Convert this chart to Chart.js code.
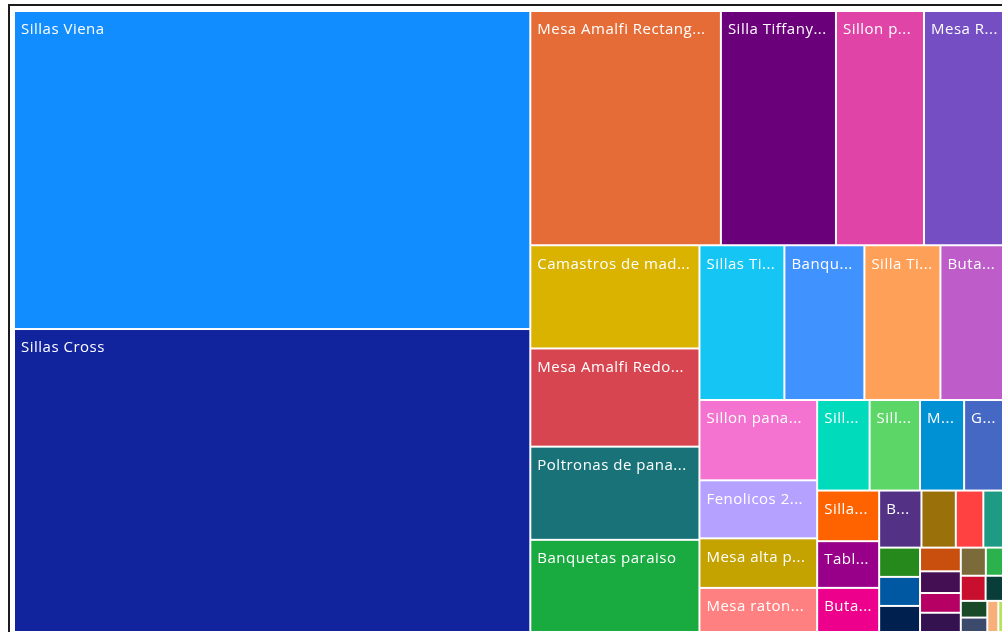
<!DOCTYPE html>
<html lang="es">
<head>
<meta charset="utf-8">
<title>Productos</title>
<script src="https://cdn.jsdelivr.net/npm/chart.js@4.4.1/dist/chart.umd.min.js"></script>
<style>
	html, body { margin: 0; padding: 0; background: #fff; overflow: hidden; }
	#wrap { position: relative; width: 1002px; height: 632px; overflow: hidden; }
	#frame { position: absolute; left: 8px; top: 4px; width: 1100px; height: 700px; border-left: 2px solid #1c1c1c; border-top: 2px solid #1c1c1c; }
	#treemap { position: absolute; left: 0; top: 0; }
</style>
</head>
<body>
<div id="wrap">
	<div id="frame"></div>
	<canvas id="treemap" width="1012" height="632"></canvas>
</div>
<script>
const productos = [
	"Sillas Viena", "Sillas Cross", "Mesa Amalfi Rectangular", "Silla Tiffany transparente",
	"Sillon paraiso", "Mesa Redonda", "Camastros de madera", "Mesa Amalfi Redonda",
	"Poltronas de panamá", "Banquetas paraiso", "Sillas Tiffany blancas", "Banquetas altas",
	"Silla Tiffany dorada", "Butacas Luis XV", "Sillon panamá doble", "Fenolicos 2 metros",
	"Mesa alta periquera", "Mesa ratona cuadrada", "Silla Versalles", "Silla Crossback",
	"Mesa imperial", "Gazebo 3x3", "Silla plegable", "Tablones", "Butacas", "Bancos",
	"Barra de bar", "Carpa", "Manteles", "Mesa cuadrada", "Periqueras", "Salas lounge",
	"Tarimas", "Vajilla", "Cristalería", "Cubiertos", "Calentadores", "Lámparas",
	"Pista de baile", "Sombrillas", "Hieleras", "Bases", "Caminos de mesa", "Mantelería"
];

const cantidades = [
	16326, 15553, 4439, 2680, 2050, 1957, 1736, 1651, 1567, 1550, 1307, 1231,
	1170, 1040, 940, 679, 580, 516, 472, 454, 397, 395, 312, 288, 272, 240,
	195, 156, 140, 119, 118, 106, 96, 88, 80, 78, 70, 62, 62, 56, 44, 38, 34, 30
];

const colores = [
	"#118DFF", "#12239E", "#E66C37", "#6B007B", "#E044A7", "#744EC2", "#D9B300", "#D64550",
	"#197278", "#1AAB40", "#15C6F4", "#4092FF", "#FFA058", "#BE5DC9", "#F472D0", "#B5A1FF",
	"#C4A200", "#FF8080", "#00DBBC", "#5BD667", "#0091D5", "#4668C5", "#FF6300", "#99008A",
	"#EC008C", "#533285", "#99700A", "#FF4141", "#1F9A85", "#25891C", "#0057A2", "#002050",
	"#C94F0F", "#450F54", "#B60064", "#34124F", "#7B6B3A", "#2BB24C", "#C8102E", "#083D3A",
	"#184A28", "#3C4B6B", "#F8B07A", "#B6E35A"
];

const PHI = (1 + Math.sqrt(5)) / 2;

// squarified rows, golden-ratio target (same rule d3.treemapSquarify uses)
function squarify(values, x0, y0, x1, y1) {
	const cells = [];
	const n = values.length;
	let value = values.reduce((a, b) => a + b, 0);
	let i0 = 0, i1 = 0;

	while (i0 < n) {
		const dx = x1 - x0, dy = y1 - y0;
		let sum = values[i1++];
		let minV = sum, maxV = sum;
		const alpha = Math.max(dy / dx, dx / dy) / (value * PHI);
		let beta = sum * sum * alpha;
		let minRatio = Math.max(maxV / beta, beta / minV);

		for (; i1 < n; ++i1) {
			const v = values[i1];
			sum += v;
			if (v < minV) minV = v;
			if (v > maxV) maxV = v;
			beta = sum * sum * alpha;
			const r = Math.max(maxV / beta, beta / minV);
			if (r > minRatio) { sum -= v; break; }
			minRatio = r;
		}

		if (dx < dy) {
			// row across the top
			const h = value ? dy * sum / value : dy;
			let cx = x0;
			for (let i = i0; i < i1; i++) {
				const w = dx * values[i] / sum;
				cells.push({ index: i, x0: cx, y0: y0, x1: cx + w, y1: y0 + h });
				cx += w;
			}
			y0 += h;
		} else {
			// column down the left side
			const w = value ? dx * sum / value : dx;
			let cy = y0;
			for (let i = i0; i < i1; i++) {
				const h = dy * values[i] / sum;
				cells.push({ index: i, x0: x0, y0: cy, x1: x0 + w, y1: cy + h });
				cy += h;
			}
			x0 += w;
		}
		value -= sum;
		i0 = i1;
	}
	return cells;
}

const fitLabel = (ctx, text, maxWidth) => {
	if (ctx.measureText(text).width <= maxWidth) return text;
	let s = text;
	while (s.length > 1 && ctx.measureText(s + "...").width > maxWidth) s = s.slice(0, -1);
	return s.trimEnd() + "...";
};

const treemapCells = {
	id: "treemapCells",
	afterDatasetsDraw(chart) {
		const { ctx, chartArea, scales: { x, y } } = chart;
		const W = chartArea.right - chartArea.left;
		const H = chartArea.bottom - chartArea.top;
		const cells = squarify(cantidades, 0, 0, W, H);

		ctx.save();
		ctx.font = '15px "Open Sans", sans-serif';
		ctx.letterSpacing = "0.5px";
		ctx.textBaseline = "middle";

		cells.forEach(c => {
			const left = x.getPixelForValue(c.x0 / W);
			const right = x.getPixelForValue(c.x1 / W);
			const top = y.getPixelForValue(c.y0 / H);
			const bottom = y.getPixelForValue(c.y1 / H);
			const w = right - left, h = bottom - top;

			ctx.fillStyle = colores[c.index];
			ctx.fillRect(left + 1, top + 1, w - 2, h - 2);

			if (w >= 40 && h >= 36) {
				ctx.fillStyle = "#ffffff";
				ctx.fillText(fitLabel(ctx, productos[c.index], w - 14), left + 7, top + 19);
			}
		});
		ctx.restore();
	}
};

new Chart(document.getElementById("treemap"), {
	type: "scatter",
	data: { datasets: [{ label: "Cantidad", data: [] }] },
	options: {
		responsive: false,
		animation: false,
		layout: { padding: { left: 14, top: 11, right: 4, bottom: 0 } },
		scales: {
			x: { type: "linear", min: 0, max: 1, display: false },
			y: { type: "linear", min: 0, max: 1, reverse: true, display: false }
		},
		plugins: {
			legend: { display: false },
			tooltip: { enabled: false }
		}
	},
	plugins: [treemapCells]
});
</script>
</body>
</html>
